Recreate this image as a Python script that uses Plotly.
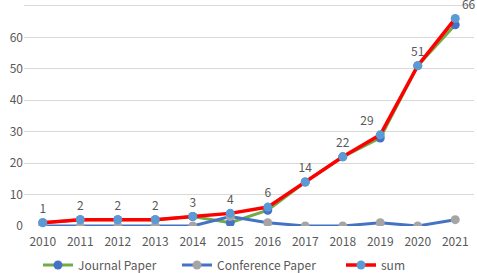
import plotly.graph_objects as go

years = ["2010", "2011", "2012", "2013", "2014", "2015", "2016", "2017", "2018", "2019", "2020", "2021"]
journal = [1, 2, 2, 2, 3, 1, 5, 14, 22, 28, 51, 64]
conference = [0, 0, 0, 0, 0, 3, 1, 0, 0, 1, 0, 2]
total = [1, 2, 2, 2, 3, 4, 6, 14, 22, 29, 51, 66]
y_ticks = [0, 10, 20, 30, 40, 50, 60, 70]

FONT = "Noto Sans CJK SC, Noto Sans, sans-serif"
GREY = "#595959"
W, H = 477, 273
ML, MR, MT, MB = 24, 3, 3, 47
PW = W - ML - MR
PH = H - MT - MB


def px_x(p):
    return (p - ML) / PW


def px_y(p):
    return (H - MB - p) / PH


fig = go.Figure()
fig.add_trace(go.Scatter(
    x=years, y=journal, name="Journal Paper", mode="lines+markers",
    line=dict(color="#70AD47", width=3),
    marker=dict(color="#4472C4", size=9),
    legend="legend",
))
fig.add_trace(go.Scatter(
    x=years, y=conference, name="Conference Paper", mode="lines+markers",
    line=dict(color="#4472C4", width=3),
    marker=dict(color="#A5A5A5", size=9),
    legend="legend2",
))
positions = ["top center"] * len(years)
positions[9] = "top left"
positions[11] = "top right"
fig.add_trace(go.Scatter(
    x=years, y=total, name="sum", mode="lines+markers+text",
    line=dict(color="#FF0000", width=3.5),
    marker=dict(color="#5B9BD5", size=9),
    text=[str(v) for v in total], textposition=positions,
    textfont=dict(family=FONT, size=12, color=GREY),
    cliponaxis=False,
    legend="legend3",
))

leg_common = dict(orientation="h", yanchor="middle", xanchor="left", y=px_y(265),
                  font=dict(family=FONT, size=12, color=GREY), itemwidth=30,
                  bgcolor="rgba(0,0,0,0)")

fig.update_layout(
    width=W, height=H,
    margin=dict(l=ML, r=MR, t=MT, b=MB, pad=0, autoexpand=False),
    paper_bgcolor="white", plot_bgcolor="white",
    font=dict(family=FONT, size=12, color=GREY),
    showlegend=True,
    legend=dict(x=px_x(38), **leg_common),
    legend2=dict(x=px_x(177), **leg_common),
    legend3=dict(x=px_x(341), **leg_common),
    xaxis=dict(type="category", range=[-0.5, 11.5], autorange=False, showgrid=False,
               showline=False, zeroline=False, ticks="", automargin=False,
               ticklabelstandoff=7, tickfont=dict(size=12, color=GREY)),
    yaxis=dict(range=[-0.02, 70.95], autorange=False, tickmode="array", tickvals=y_ticks,
               ticktext=[str(v) for v in y_ticks],
               showgrid=True, gridcolor="#D9D9D9",
               gridwidth=1, zeroline=False, showline=False, automargin=False,
               ticks="", tickfont=dict(size=12, color=GREY)),
)

fig.write_html("out.html", config={"displayModeBar": False},
               post_script="document.body.style.margin='0';document.body.style.overflow='hidden';")
